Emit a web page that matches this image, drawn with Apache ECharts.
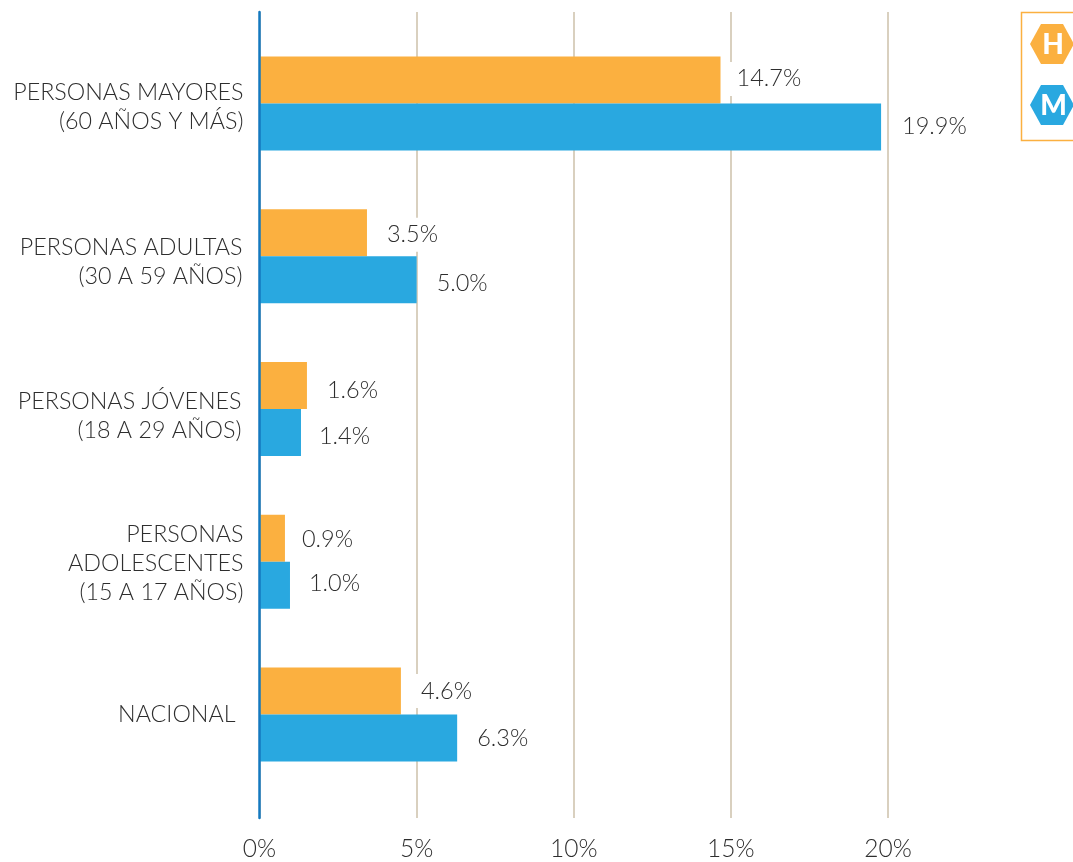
<!DOCTYPE html>
<html><head><meta charset="utf-8">
<style>html,body{margin:0;padding:0;background:#fff}#c{width:1073px;height:862px}</style>
<script src="https://cdn.jsdelivr.net/npm/echarts@6/dist/echarts.min.js"></script></head>
<body><div id="c"></div>
<script>
const categories = ['PERSONAS MAYORES\n(60 AÑOS Y MÁS)','PERSONAS ADULTAS\n(30 A 59 AÑOS)','PERSONAS JÓVENES\n(18 A 29 AÑOS)','PERSONAS\nADOLESCENTES\n(15 A 17 AÑOS)','NACIONAL'];
const hombres = [14.67, 3.42, 1.51, 0.81, 4.5];
const mujeres = [19.78, 5.0, 1.32, 0.97, 6.29];
const hombresLabels = ['14.7%','3.5%','1.6%','0.9%','4.6%'];
const mujeresLabels = ['19.9%','5.0%','1.4%','1.0%','6.3%'];
// small hand-placement nudges seen in the reference
const catShiftY = [4,6,7,2,0];
const catShiftX = [0,1,2,0,8];
const hOffset = [[-4,-1],[0,2],[0,5],[-3,1],[0,0]];
const mOffset = [[1,0],[0,4],[-2,4],[-1,-2],[0,0]];
const FONT = 'Lato';
const INK = '#2e2e2e';
const LINE = 29;
const chart = echarts.init(document.getElementById('c'), null, {renderer:'canvas'});
const lab = {show:true, position:'right', distance:12, color:INK, fontFamily:FONT, fontWeight:300, fontSize:23.5,
  backgroundColor:'#fff', padding:[5,2,5,8]};
const items = (vals, labels, offs) => vals.map((v,i)=>({value:v, label:{formatter:labels[i], offset:offs[i]}}));
const catItems = categories.map((c,i)=>({value:c, textStyle:{verticalAlign:'top',
  padding:[catShiftY[i]-c.split('\n').length*LINE/2, catShiftX[i], 0, 0]}}));
const hex = (cx,cy) => [[cx-22,cy],[cx-11,cy-20],[cx+11,cy-20],[cx+22,cy],[cx+11,cy+20],[cx-11,cy+20]];
chart.setOption({
  animation:false,
  backgroundColor:'#fff',
  grid:[
    {left:259.5, width:628.5, top:12, height:812},
    {left:259.5, width:628.5, top:27, height:764}
  ],
  xAxis:[
    {gridIndex:0, type:'value', min:0, max:20, interval:5,
     axisLine:{show:false}, axisTick:{show:false},
     axisLabel:{margin:19, color:INK, fontFamily:FONT, fontWeight:300, fontSize:24.5, formatter:'{value}%'},
     splitLine:{show:true, lineStyle:{color:'#d9d0bf', width:2}}},
    {gridIndex:1, type:'value', min:0, max:20, interval:5, show:false}
  ],
  yAxis:[
    {gridIndex:0, type:'category', data:[''], z:5, axisLine:{show:true, onZero:false, lineStyle:{color:'#1479bf', width:2.5}}, axisTick:{show:false}, axisLabel:{show:false}},
    {gridIndex:1, type:'category', inverse:true, data:catItems, axisLine:{show:false}, axisTick:{show:false},
     axisLabel:{margin:16, align:'right', color:INK, fontFamily:FONT, fontWeight:300, fontSize:23.3, lineHeight:LINE}}
  ],
  series:[
    {name:'H', type:'bar', xAxisIndex:1, yAxisIndex:1, data:items(hombres,hombresLabels,hOffset), barWidth:47, barGap:'0%', z:3, itemStyle:{color:'#fbb040'}, label:lab},
    {name:'M', type:'bar', xAxisIndex:1, yAxisIndex:1, data:items(mujeres,mujeresLabels,mOffset), barWidth:47, barGap:'0%', z:3, itemStyle:{color:'#29a8e0'}, label:lab}
  ],
  graphic:[
    {type:'rect', shape:{x:1021.5,y:12.5,width:70,height:128}, style:{fill:'#fff',stroke:'#fbb040',lineWidth:1.5}, z:10},
    {type:'polygon', shape:{points:hex(1052,44)}, style:{fill:'#fbb040'}, z:11},
    {type:'polygon', shape:{points:hex(1052,105)}, style:{fill:'#29a8e0'}, z:11},
    {type:'text', x:1053, y:45, style:{text:'H',fill:'#fff',font:'900 28px Lato',align:'center',verticalAlign:'middle'}, z:12},
    {type:'text', x:1053.5, y:106, style:{text:'M',fill:'#fff',font:'900 28px Lato',align:'center',verticalAlign:'middle'}, z:12}
  ]
});
</script></body></html>
